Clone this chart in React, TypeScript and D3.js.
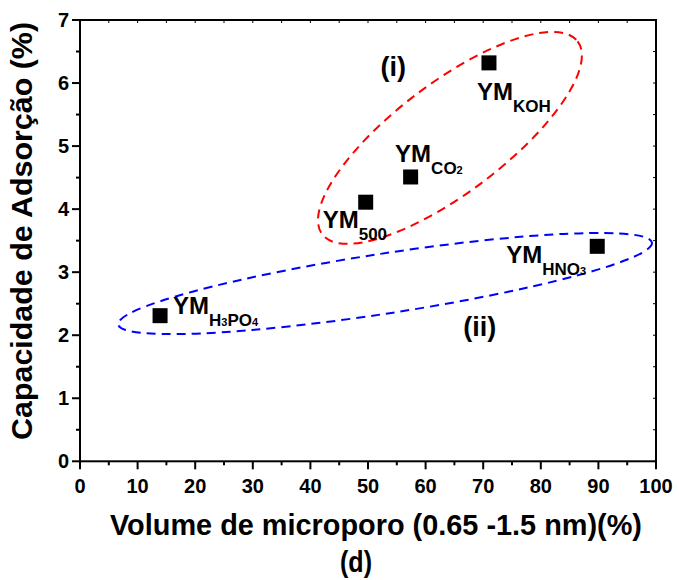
import React from "react";
import * as d3 from "d3";

// amostras (subscritos do rótulo YM_xxx)
const samples = ["H3PO4", "500", "CO2", "KOH", "HNO3"];
const microporeVolume = [13.9, 49.6, 57.4, 71.0, 89.8];
const adsorptionCapacity = [2.31, 4.11, 4.51, 6.32, 3.41];

const xTickValues = [0, 10, 20, 30, 40, 50, 60, 70, 80, 90, 100];
const yTickValues = [0, 1, 2, 3, 4, 5, 6, 7];

// grupos (elipses tracejadas), extremos do eixo maior em unidades dos dados
const groupNames = ["(i)", "(ii)"];
const groupFrom = [[42.05, 3.6], [6.63, 2.17]];
const groupTo = [[86.4, 6.66], [99.3, 3.47]];
const groupLabelAt = [[54.4, 6.11], [69.4, 1.99]];

const xTitle = "Volume de microporo (0.65 -1.5 nm)(%)";
const yTitle = "Capacidade de Adsorção (%)";
const panel = "(d)";

// estilos
const W = 679;
const H = 580;
const font = "'Liberation Sans', Arial, Helvetica, sans-serif";
const groupColors = ["#ff0000", "#0000ff"];
const groupHalfWidth = [55, 30];
const labelOffsets = [[13, -2], [-43, 26], [-15.5, -15], [-12, 37], [-91, 17]];

function subParts(s: string) {
  // dígitos ficam menores quando misturados com letras (fórmulas químicas)
  if (/^\d+$/.test(s)) return [{ t: s, small: false }];
  return s.split(/(\d+)/).filter(Boolean).map(t => ({ t, small: /^\d+$/.test(t) }));
}

export default function App() {
  const x = d3.scaleLinear().domain([0, 100]).range([80, 656]);
  const y = d3.scaleLinear().domain([0, 7]).range([461.3, 20]);
  const [x0, x1] = x.range();
  const [y0, y1] = y.range();

  const xMinor = d3.range(0, 101, 5);
  const yMinor = d3.range(0, 7.01, 0.5);

  const ellipses = groupNames.map((g, i) => {
    const ax = x(groupFrom[i][0]), ay = y(groupFrom[i][1]);
    const bx = x(groupTo[i][0]), by = y(groupTo[i][1]);
    const cx = (ax + bx) / 2, cy = (ay + by) / 2;
    const rx = Math.hypot(bx - ax, by - ay) / 2;
    const ang = (Math.atan2(by - ay, bx - ax) * 180) / Math.PI;
    return { cx, cy, rx, ang };
  });

  return (
    <svg width={W} height={H} style={{ position: "absolute", left: 0, top: 0, background: "#fff" }}
      fontFamily={font} fontWeight="bold">
      {/* elipses */}
      {ellipses.map((e, i) => (
        <ellipse key={i} cx={e.cx} cy={e.cy} rx={e.rx} ry={groupHalfWidth[i]}
          transform={`rotate(${e.ang} ${e.cx} ${e.cy})`}
          fill="none" stroke={groupColors[i]} strokeWidth={2} strokeDasharray="9 6" />
      ))}
      {groupNames.map((g, i) => (
        <text key={g} x={x(groupLabelAt[i][0])} y={y(groupLabelAt[i][1])} fontSize={27} textAnchor="middle">{g}</text>
      ))}

      {/* pontos */}
      {samples.map((s, i) => (
        <rect key={s} x={x(microporeVolume[i]) - 7.5} y={y(adsorptionCapacity[i]) - 7.5} width={15} height={15} fill="#000" />
      ))}
      {samples.map((s, i) => (
        <text key={s} x={x(microporeVolume[i]) + labelOffsets[i][0]} y={y(adsorptionCapacity[i]) + labelOffsets[i][1]} fontSize={24}>
          <tspan>YM</tspan>
          <tspan dy={12} fontSize={17}>
            {subParts(s).map((p, k) => (
              <tspan key={k} fontSize={p.small ? 11 : 17}>{p.t}</tspan>
            ))}
          </tspan>
        </text>
      ))}

      {/* moldura */}
      <rect x={x0} y={y1} width={x1 - x0} height={y0 - y1} fill="none" stroke="#000" strokeWidth={2} />

      {/* eixo x */}
      {xMinor.map(v => {
        const major = v % 10 === 0;
        return (
          <g key={"x" + v}>
            <line x1={x(v)} x2={x(v)} y1={y0} y2={y0 + (major ? 8 : 4)} stroke="#000" strokeWidth={2} />
            <line x1={x(v)} x2={x(v)} y1={y1} y2={y1 + 3} stroke="#000" strokeWidth={1} />
          </g>
        );
      })}
      {xTickValues.map(v => (
        <text key={"xl" + v} x={x(v)} y={493} fontSize={20} textAnchor="middle">{v}</text>
      ))}

      {/* eixo y */}
      {yMinor.map(v => {
        const major = Math.abs(v - Math.round(v)) < 1e-6;
        return (
          <g key={"y" + v}>
            <line x1={x0 - (major ? 8 : 4)} x2={x0} y1={y(v)} y2={y(v)} stroke="#000" strokeWidth={2} />
            <line x1={x1 - 3} x2={x1} y1={y(v)} y2={y(v)} stroke="#000" strokeWidth={1} />
          </g>
        );
      })}
      {yTickValues.map(v => (
        <text key={"yl" + v} x={69} y={y(v) + 7} fontSize={20} textAnchor="end">{v}</text>
      ))}

      {/* títulos */}
      <text x={376} y={535} fontSize={30} textAnchor="middle" textLength={532} lengthAdjust="spacingAndGlyphs">{xTitle}</text>
      <text transform={`translate(32,231) rotate(-90)`} fontSize={30} textAnchor="middle" textLength={418} lengthAdjust="spacingAndGlyphs">{yTitle}</text>
      <text x={356} y={572} fontSize={29} textAnchor="middle" textLength={32} lengthAdjust="spacingAndGlyphs">{panel}</text>
    </svg>
  );
}
